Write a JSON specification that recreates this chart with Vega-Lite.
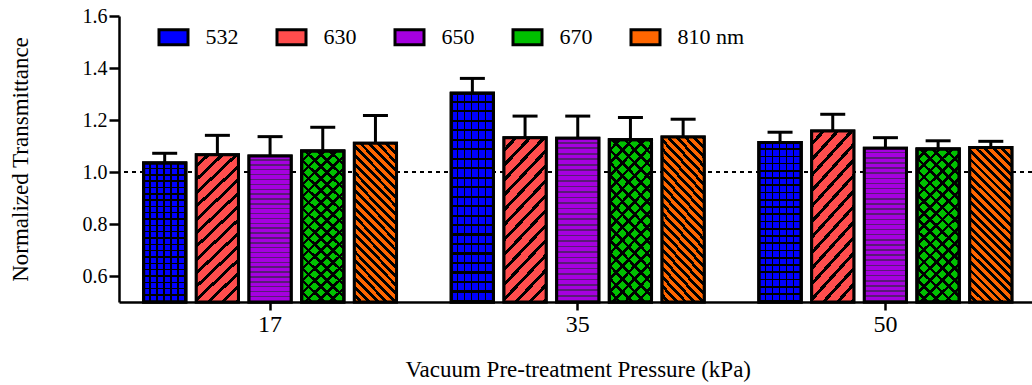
{
  "$schema": "https://vega.github.io/schema/vega-lite/v6.json",
  "width": 913,
  "height": 286,
  "autosize": {"type": "none"},
  "padding": {"left": 119, "top": 16, "right": 0, "bottom": 83},
  "background": "white",
  "config": {
    "view": {"stroke": null},
    "font": "Liberation Serif",
    "axis": {
      "grid": false,
      "domainColor": "black",
      "domainWidth": 2.5,
      "tickColor": "black",
      "tickWidth": 2.5,
      "labelColor": "black",
      "titleColor": "black",
      "labelFont": "Liberation Serif",
      "titleFont": "Liberation Serif",
      "titleFontWeight": "normal"
    }
  },
  "data": {
    "values": [
      {"pressure": "17", "wavelength": "532", "value": 1.035, "upper": 1.072},
      {"pressure": "17", "wavelength": "630", "value": 1.066, "upper": 1.141},
      {"pressure": "17", "wavelength": "650", "value": 1.062, "upper": 1.136},
      {"pressure": "17", "wavelength": "670", "value": 1.081, "upper": 1.172},
      {"pressure": "17", "wavelength": "810 nm", "value": 1.111, "upper": 1.217},
      {"pressure": "35", "wavelength": "532", "value": 1.303, "upper": 1.36},
      {"pressure": "35", "wavelength": "630", "value": 1.132, "upper": 1.215},
      {"pressure": "35", "wavelength": "650", "value": 1.13, "upper": 1.215},
      {"pressure": "35", "wavelength": "670", "value": 1.124, "upper": 1.21},
      {"pressure": "35", "wavelength": "810 nm", "value": 1.135, "upper": 1.203},
      {"pressure": "50", "wavelength": "532", "value": 1.113, "upper": 1.153},
      {"pressure": "50", "wavelength": "630", "value": 1.158, "upper": 1.222},
      {"pressure": "50", "wavelength": "650", "value": 1.091, "upper": 1.132},
      {"pressure": "50", "wavelength": "670", "value": 1.088, "upper": 1.12},
      {"pressure": "50", "wavelength": "810 nm", "value": 1.094, "upper": 1.118}
    ]
  },
  "layer": [
    {
      "data": {"values": [{}]},
      "mark": {"type": "rule", "color": "black", "strokeWidth": 2, "strokeDash": [4, 4]},
      "encoding": {"y": {"datum": 1, "type": "quantitative"}}
    },
    {
      "encoding": {
        "x": {
          "field": "pressure",
          "type": "nominal",
          "sort": ["17", "35", "50"],
          "scale": {"range": [0, 917.5], "paddingInner": 0.178, "paddingOuter": 0.08},
          "axis": {
            "title": "Vacuum Pre-treatment Pressure (kPa)",
            "labelAngle": 0,
            "labelFontSize": 24,
            "tickSize": 8,
            "labelPadding": 2,
            "titleFontSize": 23,
            "titlePadding": 22
          }
        },
        "xOffset": {
          "field": "wavelength",
          "type": "nominal",
          "scale": {"domain": ["532", "630", "650", "670", "810 nm"], "paddingInner": 0.2, "paddingOuter": 0}
        }
      },
      "layer": [
        {
          "mark": {"type": "bar", "stroke": "black", "strokeWidth": 3},
          "encoding": {
            "y": {
              "field": "value",
              "type": "quantitative",
              "scale": {"domain": [0.5, 1.6], "nice": false, "zero": false},
              "axis": {
                "title": "Normalized Transmittance",
                "values": [0.6, 0.8, 1.0, 1.2, 1.4, 1.6],
                "format": ".1f",
                "labelFontSize": 20,
                "tickSize": 10,
                "labelPadding": 2,
                "titleFontSize": 23,
                "titlePadding": 50
              }
            },
            "y2": {"datum": 0.5},
            "color": {
              "field": "wavelength",
              "type": "nominal",
              "scale": {
                "domain": ["532", "630", "650", "670", "810 nm"],
                "range": ["#0000ff", "#ff4d4d", "#a600e0", "#00c000", "#ff6600"]
              },
              "legend": {
                "title": null,
                "orient": "none",
                "legendX": 38.5,
                "legendY": 5,
                "direction": "horizontal",
                "columns": 5,
                "padding": 0,
                "symbolType": "M-1,-0.52H1V0.52H-1Z",
                "symbolSize": 841,
                "symbolStrokeColor": "black",
                "symbolStrokeWidth": 3,
                "symbolOpacity": 1,
                "labelFont": "Liberation Serif",
                "labelFontSize": 22,
                "labelColor": "black",
                "labelOffset": 16,
                "columnPadding": 32
              }
            }
          }
        },
        {
          "transform": [{"filter": "datum.wavelength == '532'"}],
          "mark": {
            "type": "bar", "stroke": "black", "strokeWidth": 3,
            "fill": {
              "gradient": "linear", "x1": 0, "y1": 0, "x2": 0, "y2": 1,
              "stops": [
                {"offset": 0, "color": "#0000ff"}, {"offset": 0.0355, "color": "#0000ff"}, {"offset": 0.0355, "color": "black"}, {"offset": 0.0455, "color": "black"},
                {"offset": 0.0455, "color": "#0000ff"}, {"offset": 0.0809, "color": "#0000ff"}, {"offset": 0.0809, "color": "black"}, {"offset": 0.0909, "color": "black"},
                {"offset": 0.0909, "color": "#0000ff"}, {"offset": 0.1264, "color": "#0000ff"}, {"offset": 0.1264, "color": "black"}, {"offset": 0.1364, "color": "black"},
                {"offset": 0.1364, "color": "#0000ff"}, {"offset": 0.1718, "color": "#0000ff"}, {"offset": 0.1718, "color": "black"}, {"offset": 0.1818, "color": "black"},
                {"offset": 0.1818, "color": "#0000ff"}, {"offset": 0.2173, "color": "#0000ff"}, {"offset": 0.2173, "color": "black"}, {"offset": 0.2273, "color": "black"},
                {"offset": 0.2273, "color": "#0000ff"}, {"offset": 0.2627, "color": "#0000ff"}, {"offset": 0.2627, "color": "black"}, {"offset": 0.2727, "color": "black"},
                {"offset": 0.2727, "color": "#0000ff"}, {"offset": 0.3082, "color": "#0000ff"}, {"offset": 0.3082, "color": "black"}, {"offset": 0.3182, "color": "black"},
                {"offset": 0.3182, "color": "#0000ff"}, {"offset": 0.3536, "color": "#0000ff"}, {"offset": 0.3536, "color": "black"}, {"offset": 0.3636, "color": "black"},
                {"offset": 0.3636, "color": "#0000ff"}, {"offset": 0.3991, "color": "#0000ff"}, {"offset": 0.3991, "color": "black"}, {"offset": 0.4091, "color": "black"},
                {"offset": 0.4091, "color": "#0000ff"}, {"offset": 0.4446, "color": "#0000ff"}, {"offset": 0.4446, "color": "black"}, {"offset": 0.4545, "color": "black"},
                {"offset": 0.4545, "color": "#0000ff"}, {"offset": 0.49, "color": "#0000ff"}, {"offset": 0.49, "color": "black"}, {"offset": 0.5, "color": "black"},
                {"offset": 0.5, "color": "#0000ff"}, {"offset": 0.5355, "color": "#0000ff"}, {"offset": 0.5355, "color": "black"}, {"offset": 0.5455, "color": "black"},
                {"offset": 0.5455, "color": "#0000ff"}, {"offset": 0.5809, "color": "#0000ff"}, {"offset": 0.5809, "color": "black"}, {"offset": 0.5909, "color": "black"},
                {"offset": 0.5909, "color": "#0000ff"}, {"offset": 0.6264, "color": "#0000ff"}, {"offset": 0.6264, "color": "black"}, {"offset": 0.6364, "color": "black"},
                {"offset": 0.6364, "color": "#0000ff"}, {"offset": 0.6718, "color": "#0000ff"}, {"offset": 0.6718, "color": "black"}, {"offset": 0.6818, "color": "black"},
                {"offset": 0.6818, "color": "#0000ff"}, {"offset": 0.7173, "color": "#0000ff"}, {"offset": 0.7173, "color": "black"}, {"offset": 0.7273, "color": "black"},
                {"offset": 0.7273, "color": "#0000ff"}, {"offset": 0.7627, "color": "#0000ff"}, {"offset": 0.7627, "color": "black"}, {"offset": 0.7727, "color": "black"},
                {"offset": 0.7727, "color": "#0000ff"}, {"offset": 0.8082, "color": "#0000ff"}, {"offset": 0.8082, "color": "black"}, {"offset": 0.8182, "color": "black"},
                {"offset": 0.8182, "color": "#0000ff"}, {"offset": 0.8536, "color": "#0000ff"}, {"offset": 0.8536, "color": "black"}, {"offset": 0.8636, "color": "black"},
                {"offset": 0.8636, "color": "#0000ff"}, {"offset": 0.8991, "color": "#0000ff"}, {"offset": 0.8991, "color": "black"}, {"offset": 0.9091, "color": "black"},
                {"offset": 0.9091, "color": "#0000ff"}, {"offset": 0.9446, "color": "#0000ff"}, {"offset": 0.9446, "color": "black"}, {"offset": 0.9545, "color": "black"},
                {"offset": 0.9545, "color": "#0000ff"}, {"offset": 0.99, "color": "#0000ff"}, {"offset": 0.99, "color": "black"}, {"offset": 1, "color": "black"}
              ]
            }
          },
          "encoding": {"y": {"field": "value", "type": "quantitative"}, "y2": {"datum": 0.5}}
        },
        {
          "transform": [{"filter": "datum.wavelength == '532'"}],
          "mark": {
            "type": "bar", "stroke": "black", "strokeWidth": 3,
            "fill": {
              "gradient": "linear", "x1": 0, "y1": 0, "x2": 1, "y2": 0,
              "stops": [
                {"offset": 0, "color": "rgba(0,0,0,0)"}, {"offset": 0.1333, "color": "rgba(0,0,0,0)"}, {"offset": 0.1333, "color": "black"}, {"offset": 0.1667, "color": "black"},
                {"offset": 0.1667, "color": "rgba(0,0,0,0)"}, {"offset": 0.3, "color": "rgba(0,0,0,0)"}, {"offset": 0.3, "color": "black"}, {"offset": 0.3333, "color": "black"},
                {"offset": 0.3333, "color": "rgba(0,0,0,0)"}, {"offset": 0.4667, "color": "rgba(0,0,0,0)"}, {"offset": 0.4667, "color": "black"}, {"offset": 0.5, "color": "black"},
                {"offset": 0.5, "color": "rgba(0,0,0,0)"}, {"offset": 0.6333, "color": "rgba(0,0,0,0)"}, {"offset": 0.6333, "color": "black"}, {"offset": 0.6667, "color": "black"},
                {"offset": 0.6667, "color": "rgba(0,0,0,0)"}, {"offset": 0.8, "color": "rgba(0,0,0,0)"}, {"offset": 0.8, "color": "black"}, {"offset": 0.8333, "color": "black"},
                {"offset": 0.8333, "color": "rgba(0,0,0,0)"}, {"offset": 0.9667, "color": "rgba(0,0,0,0)"}, {"offset": 0.9667, "color": "black"}, {"offset": 1, "color": "black"}
              ]
            }
          },
          "encoding": {"y": {"field": "value", "type": "quantitative"}, "y2": {"datum": 0.5}}
        },
        {
          "transform": [{"filter": "datum.wavelength == '630'"}],
          "mark": {
            "type": "bar", "stroke": "black", "strokeWidth": 3,
            "fill": {
              "gradient": "linear", "x1": 0, "y1": 0, "x2": 0.322, "y2": 1.184,
              "stops": [
                {"offset": 0, "color": "#ff4d4d"}, {"offset": 0.05, "color": "#ff4d4d"}, {"offset": 0.05, "color": "black"}, {"offset": 0.0714, "color": "black"},
                {"offset": 0.0714, "color": "#ff4d4d"}, {"offset": 0.1214, "color": "#ff4d4d"}, {"offset": 0.1214, "color": "black"}, {"offset": 0.1429, "color": "black"},
                {"offset": 0.1429, "color": "#ff4d4d"}, {"offset": 0.1929, "color": "#ff4d4d"}, {"offset": 0.1929, "color": "black"}, {"offset": 0.2143, "color": "black"},
                {"offset": 0.2143, "color": "#ff4d4d"}, {"offset": 0.2643, "color": "#ff4d4d"}, {"offset": 0.2643, "color": "black"}, {"offset": 0.2857, "color": "black"},
                {"offset": 0.2857, "color": "#ff4d4d"}, {"offset": 0.3357, "color": "#ff4d4d"}, {"offset": 0.3357, "color": "black"}, {"offset": 0.3571, "color": "black"},
                {"offset": 0.3571, "color": "#ff4d4d"}, {"offset": 0.4071, "color": "#ff4d4d"}, {"offset": 0.4071, "color": "black"}, {"offset": 0.4286, "color": "black"},
                {"offset": 0.4286, "color": "#ff4d4d"}, {"offset": 0.4786, "color": "#ff4d4d"}, {"offset": 0.4786, "color": "black"}, {"offset": 0.5, "color": "black"},
                {"offset": 0.5, "color": "#ff4d4d"}, {"offset": 0.55, "color": "#ff4d4d"}, {"offset": 0.55, "color": "black"}, {"offset": 0.5714, "color": "black"},
                {"offset": 0.5714, "color": "#ff4d4d"}, {"offset": 0.6214, "color": "#ff4d4d"}, {"offset": 0.6214, "color": "black"}, {"offset": 0.6429, "color": "black"},
                {"offset": 0.6429, "color": "#ff4d4d"}, {"offset": 0.6929, "color": "#ff4d4d"}, {"offset": 0.6929, "color": "black"}, {"offset": 0.7143, "color": "black"},
                {"offset": 0.7143, "color": "#ff4d4d"}, {"offset": 0.7643, "color": "#ff4d4d"}, {"offset": 0.7643, "color": "black"}, {"offset": 0.7857, "color": "black"},
                {"offset": 0.7857, "color": "#ff4d4d"}, {"offset": 0.8357, "color": "#ff4d4d"}, {"offset": 0.8357, "color": "black"}, {"offset": 0.8571, "color": "black"},
                {"offset": 0.8571, "color": "#ff4d4d"}, {"offset": 0.9071, "color": "#ff4d4d"}, {"offset": 0.9071, "color": "black"}, {"offset": 0.9286, "color": "black"},
                {"offset": 0.9286, "color": "#ff4d4d"}, {"offset": 0.9786, "color": "#ff4d4d"}, {"offset": 0.9786, "color": "black"}, {"offset": 1, "color": "black"}
              ]
            }
          },
          "encoding": {"y": {"field": "value", "type": "quantitative"}, "y2": {"datum": 0.5}}
        },
        {
          "transform": [{"filter": "datum.wavelength == '650'"}],
          "mark": {
            "type": "bar", "stroke": "black", "strokeWidth": 3,
            "fill": {
              "gradient": "linear", "x1": 0, "y1": 0, "x2": 0, "y2": 1,
              "stops": [
                {"offset": 0, "color": "#a600e0"}, {"offset": 0.0233, "color": "#a600e0"}, {"offset": 0.0233, "color": "#5a1a78"}, {"offset": 0.0333, "color": "#5a1a78"},
                {"offset": 0.0333, "color": "#a600e0"}, {"offset": 0.0567, "color": "#a600e0"}, {"offset": 0.0567, "color": "#5a1a78"}, {"offset": 0.0667, "color": "#5a1a78"},
                {"offset": 0.0667, "color": "#a600e0"}, {"offset": 0.09, "color": "#a600e0"}, {"offset": 0.09, "color": "#5a1a78"}, {"offset": 0.1, "color": "#5a1a78"},
                {"offset": 0.1, "color": "#a600e0"}, {"offset": 0.1233, "color": "#a600e0"}, {"offset": 0.1233, "color": "#5a1a78"}, {"offset": 0.1333, "color": "#5a1a78"},
                {"offset": 0.1333, "color": "#a600e0"}, {"offset": 0.1567, "color": "#a600e0"}, {"offset": 0.1567, "color": "#5a1a78"}, {"offset": 0.1667, "color": "#5a1a78"},
                {"offset": 0.1667, "color": "#a600e0"}, {"offset": 0.19, "color": "#a600e0"}, {"offset": 0.19, "color": "#5a1a78"}, {"offset": 0.2, "color": "#5a1a78"},
                {"offset": 0.2, "color": "#a600e0"}, {"offset": 0.2233, "color": "#a600e0"}, {"offset": 0.2233, "color": "#5a1a78"}, {"offset": 0.2333, "color": "#5a1a78"},
                {"offset": 0.2333, "color": "#a600e0"}, {"offset": 0.2567, "color": "#a600e0"}, {"offset": 0.2567, "color": "#5a1a78"}, {"offset": 0.2667, "color": "#5a1a78"},
                {"offset": 0.2667, "color": "#a600e0"}, {"offset": 0.29, "color": "#a600e0"}, {"offset": 0.29, "color": "#5a1a78"}, {"offset": 0.3, "color": "#5a1a78"},
                {"offset": 0.3, "color": "#a600e0"}, {"offset": 0.3233, "color": "#a600e0"}, {"offset": 0.3233, "color": "#5a1a78"}, {"offset": 0.3333, "color": "#5a1a78"},
                {"offset": 0.3333, "color": "#a600e0"}, {"offset": 0.3567, "color": "#a600e0"}, {"offset": 0.3567, "color": "#5a1a78"}, {"offset": 0.3667, "color": "#5a1a78"},
                {"offset": 0.3667, "color": "#a600e0"}, {"offset": 0.39, "color": "#a600e0"}, {"offset": 0.39, "color": "#5a1a78"}, {"offset": 0.4, "color": "#5a1a78"},
                {"offset": 0.4, "color": "#a600e0"}, {"offset": 0.4233, "color": "#a600e0"}, {"offset": 0.4233, "color": "#5a1a78"}, {"offset": 0.4333, "color": "#5a1a78"},
                {"offset": 0.4333, "color": "#a600e0"}, {"offset": 0.4567, "color": "#a600e0"}, {"offset": 0.4567, "color": "#5a1a78"}, {"offset": 0.4667, "color": "#5a1a78"},
                {"offset": 0.4667, "color": "#a600e0"}, {"offset": 0.49, "color": "#a600e0"}, {"offset": 0.49, "color": "#5a1a78"}, {"offset": 0.5, "color": "#5a1a78"},
                {"offset": 0.5, "color": "#a600e0"}, {"offset": 0.5233, "color": "#a600e0"}, {"offset": 0.5233, "color": "#5a1a78"}, {"offset": 0.5333, "color": "#5a1a78"},
                {"offset": 0.5333, "color": "#a600e0"}, {"offset": 0.5567, "color": "#a600e0"}, {"offset": 0.5567, "color": "#5a1a78"}, {"offset": 0.5667, "color": "#5a1a78"},
                {"offset": 0.5667, "color": "#a600e0"}, {"offset": 0.59, "color": "#a600e0"}, {"offset": 0.59, "color": "#5a1a78"}, {"offset": 0.6, "color": "#5a1a78"},
                {"offset": 0.6, "color": "#a600e0"}, {"offset": 0.6233, "color": "#a600e0"}, {"offset": 0.6233, "color": "#5a1a78"}, {"offset": 0.6333, "color": "#5a1a78"},
                {"offset": 0.6333, "color": "#a600e0"}, {"offset": 0.6567, "color": "#a600e0"}, {"offset": 0.6567, "color": "#5a1a78"}, {"offset": 0.6667, "color": "#5a1a78"},
                {"offset": 0.6667, "color": "#a600e0"}, {"offset": 0.69, "color": "#a600e0"}, {"offset": 0.69, "color": "#5a1a78"}, {"offset": 0.7, "color": "#5a1a78"},
                {"offset": 0.7, "color": "#a600e0"}, {"offset": 0.7233, "color": "#a600e0"}, {"offset": 0.7233, "color": "#5a1a78"}, {"offset": 0.7333, "color": "#5a1a78"},
                {"offset": 0.7333, "color": "#a600e0"}, {"offset": 0.7567, "color": "#a600e0"}, {"offset": 0.7567, "color": "#5a1a78"}, {"offset": 0.7667, "color": "#5a1a78"},
                {"offset": 0.7667, "color": "#a600e0"}, {"offset": 0.79, "color": "#a600e0"}, {"offset": 0.79, "color": "#5a1a78"}, {"offset": 0.8, "color": "#5a1a78"},
                {"offset": 0.8, "color": "#a600e0"}, {"offset": 0.8233, "color": "#a600e0"}, {"offset": 0.8233, "color": "#5a1a78"}, {"offset": 0.8333, "color": "#5a1a78"},
                {"offset": 0.8333, "color": "#a600e0"}, {"offset": 0.8567, "color": "#a600e0"}, {"offset": 0.8567, "color": "#5a1a78"}, {"offset": 0.8667, "color": "#5a1a78"},
                {"offset": 0.8667, "color": "#a600e0"}, {"offset": 0.89, "color": "#a600e0"}, {"offset": 0.89, "color": "#5a1a78"}, {"offset": 0.9, "color": "#5a1a78"},
                {"offset": 0.9, "color": "#a600e0"}, {"offset": 0.9233, "color": "#a600e0"}, {"offset": 0.9233, "color": "#5a1a78"}, {"offset": 0.9333, "color": "#5a1a78"},
                {"offset": 0.9333, "color": "#a600e0"}, {"offset": 0.9567, "color": "#a600e0"}, {"offset": 0.9567, "color": "#5a1a78"}, {"offset": 0.9667, "color": "#5a1a78"},
                {"offset": 0.9667, "color": "#a600e0"}, {"offset": 0.99, "color": "#a600e0"}, {"offset": 0.99, "color": "#5a1a78"}, {"offset": 1, "color": "#5a1a78"}
              ]
            }
          },
          "encoding": {"y": {"field": "value", "type": "quantitative"}, "y2": {"datum": 0.5}}
        },
        {
          "transform": [{"filter": "datum.wavelength == '670'"}],
          "mark": {
            "type": "bar", "stroke": "black", "strokeWidth": 3,
            "fill": {
              "gradient": "linear", "x1": 0, "y1": 0, "x2": 0.322, "y2": 1.184,
              "stops": [
                {"offset": 0, "color": "#00c000"}, {"offset": 0.0438, "color": "#00c000"}, {"offset": 0.0438, "color": "black"}, {"offset": 0.0625, "color": "black"},
                {"offset": 0.0625, "color": "#00c000"}, {"offset": 0.1063, "color": "#00c000"}, {"offset": 0.1063, "color": "black"}, {"offset": 0.125, "color": "black"},
                {"offset": 0.125, "color": "#00c000"}, {"offset": 0.1688, "color": "#00c000"}, {"offset": 0.1688, "color": "black"}, {"offset": 0.1875, "color": "black"},
                {"offset": 0.1875, "color": "#00c000"}, {"offset": 0.2313, "color": "#00c000"}, {"offset": 0.2313, "color": "black"}, {"offset": 0.25, "color": "black"},
                {"offset": 0.25, "color": "#00c000"}, {"offset": 0.2938, "color": "#00c000"}, {"offset": 0.2938, "color": "black"}, {"offset": 0.3125, "color": "black"},
                {"offset": 0.3125, "color": "#00c000"}, {"offset": 0.3563, "color": "#00c000"}, {"offset": 0.3563, "color": "black"}, {"offset": 0.375, "color": "black"},
                {"offset": 0.375, "color": "#00c000"}, {"offset": 0.4188, "color": "#00c000"}, {"offset": 0.4188, "color": "black"}, {"offset": 0.4375, "color": "black"},
                {"offset": 0.4375, "color": "#00c000"}, {"offset": 0.4813, "color": "#00c000"}, {"offset": 0.4813, "color": "black"}, {"offset": 0.5, "color": "black"},
                {"offset": 0.5, "color": "#00c000"}, {"offset": 0.5438, "color": "#00c000"}, {"offset": 0.5438, "color": "black"}, {"offset": 0.5625, "color": "black"},
                {"offset": 0.5625, "color": "#00c000"}, {"offset": 0.6063, "color": "#00c000"}, {"offset": 0.6063, "color": "black"}, {"offset": 0.625, "color": "black"},
                {"offset": 0.625, "color": "#00c000"}, {"offset": 0.6688, "color": "#00c000"}, {"offset": 0.6688, "color": "black"}, {"offset": 0.6875, "color": "black"},
                {"offset": 0.6875, "color": "#00c000"}, {"offset": 0.7313, "color": "#00c000"}, {"offset": 0.7313, "color": "black"}, {"offset": 0.75, "color": "black"},
                {"offset": 0.75, "color": "#00c000"}, {"offset": 0.7938, "color": "#00c000"}, {"offset": 0.7938, "color": "black"}, {"offset": 0.8125, "color": "black"},
                {"offset": 0.8125, "color": "#00c000"}, {"offset": 0.8563, "color": "#00c000"}, {"offset": 0.8563, "color": "black"}, {"offset": 0.875, "color": "black"},
                {"offset": 0.875, "color": "#00c000"}, {"offset": 0.9188, "color": "#00c000"}, {"offset": 0.9188, "color": "black"}, {"offset": 0.9375, "color": "black"},
                {"offset": 0.9375, "color": "#00c000"}, {"offset": 0.9813, "color": "#00c000"}, {"offset": 0.9813, "color": "black"}, {"offset": 1, "color": "black"}
              ]
            }
          },
          "encoding": {"y": {"field": "value", "type": "quantitative"}, "y2": {"datum": 0.5}}
        },
        {
          "transform": [{"filter": "datum.wavelength == '670'"}],
          "mark": {
            "type": "bar", "stroke": "black", "strokeWidth": 3,
            "fill": {
              "gradient": "linear", "x1": 0, "y1": 1, "x2": 0.322, "y2": -0.184,
              "stops": [
                {"offset": 0, "color": "rgba(0,0,0,0)"}, {"offset": 0.0438, "color": "rgba(0,0,0,0)"}, {"offset": 0.0438, "color": "black"}, {"offset": 0.0625, "color": "black"},
                {"offset": 0.0625, "color": "rgba(0,0,0,0)"}, {"offset": 0.1063, "color": "rgba(0,0,0,0)"}, {"offset": 0.1063, "color": "black"}, {"offset": 0.125, "color": "black"},
                {"offset": 0.125, "color": "rgba(0,0,0,0)"}, {"offset": 0.1688, "color": "rgba(0,0,0,0)"}, {"offset": 0.1688, "color": "black"}, {"offset": 0.1875, "color": "black"},
                {"offset": 0.1875, "color": "rgba(0,0,0,0)"}, {"offset": 0.2313, "color": "rgba(0,0,0,0)"}, {"offset": 0.2313, "color": "black"}, {"offset": 0.25, "color": "black"},
                {"offset": 0.25, "color": "rgba(0,0,0,0)"}, {"offset": 0.2938, "color": "rgba(0,0,0,0)"}, {"offset": 0.2938, "color": "black"}, {"offset": 0.3125, "color": "black"},
                {"offset": 0.3125, "color": "rgba(0,0,0,0)"}, {"offset": 0.3563, "color": "rgba(0,0,0,0)"}, {"offset": 0.3563, "color": "black"}, {"offset": 0.375, "color": "black"},
                {"offset": 0.375, "color": "rgba(0,0,0,0)"}, {"offset": 0.4188, "color": "rgba(0,0,0,0)"}, {"offset": 0.4188, "color": "black"}, {"offset": 0.4375, "color": "black"},
                {"offset": 0.4375, "color": "rgba(0,0,0,0)"}, {"offset": 0.4813, "color": "rgba(0,0,0,0)"}, {"offset": 0.4813, "color": "black"}, {"offset": 0.5, "color": "black"},
                {"offset": 0.5, "color": "rgba(0,0,0,0)"}, {"offset": 0.5438, "color": "rgba(0,0,0,0)"}, {"offset": 0.5438, "color": "black"}, {"offset": 0.5625, "color": "black"},
                {"offset": 0.5625, "color": "rgba(0,0,0,0)"}, {"offset": 0.6063, "color": "rgba(0,0,0,0)"}, {"offset": 0.6063, "color": "black"}, {"offset": 0.625, "color": "black"},
                {"offset": 0.625, "color": "rgba(0,0,0,0)"}, {"offset": 0.6688, "color": "rgba(0,0,0,0)"}, {"offset": 0.6688, "color": "black"}, {"offset": 0.6875, "color": "black"},
                {"offset": 0.6875, "color": "rgba(0,0,0,0)"}, {"offset": 0.7313, "color": "rgba(0,0,0,0)"}, {"offset": 0.7313, "color": "black"}, {"offset": 0.75, "color": "black"},
                {"offset": 0.75, "color": "rgba(0,0,0,0)"}, {"offset": 0.7938, "color": "rgba(0,0,0,0)"}, {"offset": 0.7938, "color": "black"}, {"offset": 0.8125, "color": "black"},
                {"offset": 0.8125, "color": "rgba(0,0,0,0)"}, {"offset": 0.8563, "color": "rgba(0,0,0,0)"}, {"offset": 0.8563, "color": "black"}, {"offset": 0.875, "color": "black"},
                {"offset": 0.875, "color": "rgba(0,0,0,0)"}, {"offset": 0.9188, "color": "rgba(0,0,0,0)"}, {"offset": 0.9188, "color": "black"}, {"offset": 0.9375, "color": "black"},
                {"offset": 0.9375, "color": "rgba(0,0,0,0)"}, {"offset": 0.9813, "color": "rgba(0,0,0,0)"}, {"offset": 0.9813, "color": "black"}, {"offset": 1, "color": "black"}
              ]
            }
          },
          "encoding": {"y": {"field": "value", "type": "quantitative"}, "y2": {"datum": 0.5}}
        },
        {
          "transform": [{"filter": "datum.wavelength == '810 nm'"}],
          "mark": {
            "type": "bar", "stroke": "black", "strokeWidth": 3,
            "fill": {
              "gradient": "linear", "x1": 0, "y1": 1, "x2": 0.322, "y2": -0.184,
              "stops": [
                {"offset": 0, "color": "#ff6600"}, {"offset": 0.0239, "color": "#ff6600"}, {"offset": 0.0239, "color": "black"}, {"offset": 0.0435, "color": "black"},
                {"offset": 0.0435, "color": "#ff6600"}, {"offset": 0.0674, "color": "#ff6600"}, {"offset": 0.0674, "color": "black"}, {"offset": 0.087, "color": "black"},
                {"offset": 0.087, "color": "#ff6600"}, {"offset": 0.1109, "color": "#ff6600"}, {"offset": 0.1109, "color": "black"}, {"offset": 0.1304, "color": "black"},
                {"offset": 0.1304, "color": "#ff6600"}, {"offset": 0.1543, "color": "#ff6600"}, {"offset": 0.1543, "color": "black"}, {"offset": 0.1739, "color": "black"},
                {"offset": 0.1739, "color": "#ff6600"}, {"offset": 0.1978, "color": "#ff6600"}, {"offset": 0.1978, "color": "black"}, {"offset": 0.2174, "color": "black"},
                {"offset": 0.2174, "color": "#ff6600"}, {"offset": 0.2413, "color": "#ff6600"}, {"offset": 0.2413, "color": "black"}, {"offset": 0.2609, "color": "black"},
                {"offset": 0.2609, "color": "#ff6600"}, {"offset": 0.2848, "color": "#ff6600"}, {"offset": 0.2848, "color": "black"}, {"offset": 0.3043, "color": "black"},
                {"offset": 0.3043, "color": "#ff6600"}, {"offset": 0.3282, "color": "#ff6600"}, {"offset": 0.3282, "color": "black"}, {"offset": 0.3478, "color": "black"},
                {"offset": 0.3478, "color": "#ff6600"}, {"offset": 0.3717, "color": "#ff6600"}, {"offset": 0.3717, "color": "black"}, {"offset": 0.3913, "color": "black"},
                {"offset": 0.3913, "color": "#ff6600"}, {"offset": 0.4152, "color": "#ff6600"}, {"offset": 0.4152, "color": "black"}, {"offset": 0.4348, "color": "black"},
                {"offset": 0.4348, "color": "#ff6600"}, {"offset": 0.4587, "color": "#ff6600"}, {"offset": 0.4587, "color": "black"}, {"offset": 0.4783, "color": "black"},
                {"offset": 0.4783, "color": "#ff6600"}, {"offset": 0.5022, "color": "#ff6600"}, {"offset": 0.5022, "color": "black"}, {"offset": 0.5217, "color": "black"},
                {"offset": 0.5217, "color": "#ff6600"}, {"offset": 0.5456, "color": "#ff6600"}, {"offset": 0.5456, "color": "black"}, {"offset": 0.5652, "color": "black"},
                {"offset": 0.5652, "color": "#ff6600"}, {"offset": 0.5891, "color": "#ff6600"}, {"offset": 0.5891, "color": "black"}, {"offset": 0.6087, "color": "black"},
                {"offset": 0.6087, "color": "#ff6600"}, {"offset": 0.6326, "color": "#ff6600"}, {"offset": 0.6326, "color": "black"}, {"offset": 0.6522, "color": "black"},
                {"offset": 0.6522, "color": "#ff6600"}, {"offset": 0.6761, "color": "#ff6600"}, {"offset": 0.6761, "color": "black"}, {"offset": 0.6957, "color": "black"},
                {"offset": 0.6957, "color": "#ff6600"}, {"offset": 0.7196, "color": "#ff6600"}, {"offset": 0.7196, "color": "black"}, {"offset": 0.7391, "color": "black"},
                {"offset": 0.7391, "color": "#ff6600"}, {"offset": 0.763, "color": "#ff6600"}, {"offset": 0.763, "color": "black"}, {"offset": 0.7826, "color": "black"},
                {"offset": 0.7826, "color": "#ff6600"}, {"offset": 0.8065, "color": "#ff6600"}, {"offset": 0.8065, "color": "black"}, {"offset": 0.8261, "color": "black"},
                {"offset": 0.8261, "color": "#ff6600"}, {"offset": 0.85, "color": "#ff6600"}, {"offset": 0.85, "color": "black"}, {"offset": 0.8696, "color": "black"},
                {"offset": 0.8696, "color": "#ff6600"}, {"offset": 0.8935, "color": "#ff6600"}, {"offset": 0.8935, "color": "black"}, {"offset": 0.913, "color": "black"},
                {"offset": 0.913, "color": "#ff6600"}, {"offset": 0.9369, "color": "#ff6600"}, {"offset": 0.9369, "color": "black"}, {"offset": 0.9565, "color": "black"},
                {"offset": 0.9565, "color": "#ff6600"}, {"offset": 0.9804, "color": "#ff6600"}, {"offset": 0.9804, "color": "black"}, {"offset": 1, "color": "black"}
              ]
            }
          },
          "encoding": {"y": {"field": "value", "type": "quantitative"}, "y2": {"datum": 0.5}}
        },
        {
          "mark": {"type": "rule", "color": "black", "strokeWidth": 3},
          "encoding": {"y": {"field": "value", "type": "quantitative"}, "y2": {"field": "upper"}}
        },
        {
          "mark": {"type": "tick", "color": "black", "size": 25, "thickness": 3, "orient": "horizontal", "opacity": 1},
          "encoding": {"y": {"field": "upper", "type": "quantitative"}}
        }
      ]
    }
  ]
}
